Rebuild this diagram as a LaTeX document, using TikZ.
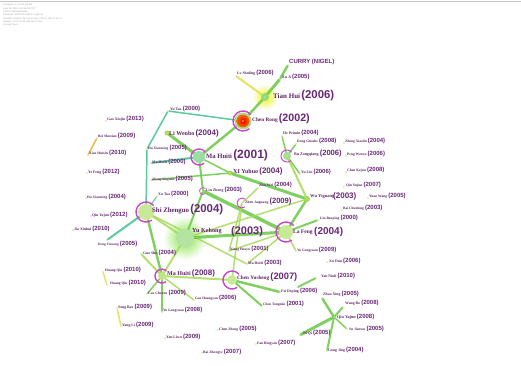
\documentclass[tikz,border=0pt]{standalone}
\usepackage{fontspec}
\setmainfont{Liberation Serif}
\newfontfamily\yrf{Liberation Sans}
\usetikzlibrary{calc}
\definecolor{txtp}{RGB}{95,35,100}
\definecolor{yrp}{RGB}{105,40,120}
\definecolor{ringp}{RGB}{205,70,200}
\definecolor{eteal}{RGB}{60,195,140}
\definecolor{egreen}{RGB}{105,200,70}
\definecolor{elime}{RGB}{165,218,85}
\definecolor{eyel}{RGB}{225,222,70}
\definecolor{eorange}{RGB}{232,172,50}
\pgfdeclarelayer{bg}
\pgfdeclarelayer{mid}
\pgfsetlayers{bg,mid,main}
\tikzset{
  dotnode/.style={circle,inner sep=0pt,minimum size=1.8pt,fill=elime!70!white},
  lbl/.style={anchor=west,inner sep=0pt,text=txtp},
  ed/.style={line cap=round,opacity=0.85},
  ring/.style={draw=ringp,line width=1.4pt},
  hdr/.style={anchor=north west,inner sep=0pt,align=left,text=gray!75,font=\fontsize{2.3pt}{3.3pt}\selectfont\yrf}
}
\newcommand\au[9]{%
  \node[dotnode] (#1) at (#2,#3) {};
  \node[lbl] (#1l) at (#4,#5) {\fontsize{#8pt}{#8pt}\selectfont\bfseries #6\hspace{1.2pt}{\yrf\color{yrp}\fontsize{#9pt}{#9pt}\selectfont(#7)}};}
\begin{document}
\begin{tikzpicture}[x=1pt,y=-1pt]
\useasboundingbox (0,0) rectangle (521,366);
\begin{pgfonlayer}{bg}
\fill[white] (0,0) rectangle (521,366);
\end{pgfonlayer}
\draw[gray!45,line width=0.6pt] (0,1.5) -- (521,1.5);
\node[hdr] (header) at (3,4) {CiteSpace, v. 5.3.R4 (64-bit)\\June 20, 2019 3:42:18 PM CST\\CNKI: E:\textbackslash citespace\textbackslash data\\Timespan: 2000-2013 (Slice Length=1)\\Selection Criteria: Top 50 per slice, LRF=2, LBY=8, e=2.0\\Network: N=72, E=64 (Density=0.025)\\Pruning: None};

% ---- nodes and labels ----
\node[dotnode] (curry) at (288,65) {};
\node[lbl] (curryl) at (289,62) {\yrf\bfseries\color{yrp}\fontsize{6pt}{6pt}\selectfont CURRY (NIGEL)};
\au{xuji}{280}{79}{282}{77}{Xu Ji}{2005}{3.8}{6}
\au{lvs}{236}{76}{237}{73}{Lv Shuling}{2006}{3.8}{6}
\au{tian}{265}{97}{273}{96}{Tian Hui}{2006}{7}{11.4}
\au{chen}{243}{121}{252}{119}{Chen Rong}{2002}{5.3}{10.7}
\au{mah01}{199}{157}{206}{155}{Ma Huiti}{2001}{6.6}{12}
\au{liw}{167}{133}{169}{133}{Li Wenbo}{2004}{6}{8}
\au{yutao}{168}{111}{170}{109}{Yu Tao}{2000}{3.8}{6}
\au{hux05}{147}{149}{148}{148}{Hu Xiaoming}{2005}{3.5}{6}
\au{mah00}{151}{163}{152}{162}{Ma Huiti}{2000}{3.8}{6}
\au{zhy}{151}{180}{152}{179}{Zhang Yingmin}{2005}{3.3}{6}
\au{gaox}{106}{121}{107}{119}{Gao Xiujin}{2013}{3.8}{6}
\au{bei}{97}{138}{98}{136}{Bei Shuxian}{2009}{3.6}{6}
\au{xiao}{88}{155}{89}{153}{Xiao Huixin}{2010}{3.6}{6}
\au{yef}{87}{173}{88}{172}{Ye Feng}{2012}{3.8}{6}
\au{hux04}{86}{198}{87}{197}{Hu Xiaoming}{2004}{3.5}{6}
\au{qiny}{91}{216}{92}{215}{Qin Yajun}{2012}{3.8}{6}
\au{jia}{73}{230}{74}{229}{Jia Xinhui}{2010}{3.8}{6}
\au{deng}{107}{240}{98}{244}{Deng Yuesong}{2005}{3.4}{6}
\au{shi}{146}{212}{152}{210}{Shi Zhenguo}{2004}{6.8}{11.4}
\au{xutao}{157}{196}{158}{194}{Xu Tao}{2000}{3.8}{6}
\au{lin}{203}{191}{206}{190}{Lin Zhong}{2003}{3.8}{6}
\au{xi}{230}{173}{233}{171}{XI Yuhuo}{2004}{6}{8}
\au{zhou}{242}{203}{245}{202}{Zhou Anguang}{2009}{3.6}{7.6}
\node[dotnode] (yuk) at (185,238) {};
\node[lbl] (yukl) at (192,231) {\fontsize{6.2pt}{6.2pt}\selectfont\bfseries Yu Kehong};
\node[lbl] (yuky) at (231,232) {\yrf\bfseries\color{yrp}\fontsize{11pt}{11pt}\selectfont(2003)};
\node[dotnode] (laf) at (286,232) {};
\node[lbl] (lafl) at (293,232) {\fontsize{5.5pt}{5.5pt}\selectfont\bfseries La Feng};
\node[lbl] (lafy) at (314,232) {\yrf\bfseries\color{yrp}\fontsize{10pt}{10pt}\selectfont(2004)};
\node[dotnode] (wu) at (307,199) {};
\node[lbl] (wul) at (310,196) {\fontsize{4.5pt}{4.5pt}\selectfont\bfseries Wu Yiguang};
\node[lbl] (wuy) at (333,196) {\yrf\bfseries\color{yrp}\fontsize{8pt}{8pt}\selectfont(2003)};
\au{zhuw}{258}{188}{259}{185}{Zhu Wei}{2004}{3.8}{6}
\au{bu}{287}{156}{294}{154}{Bu Zongqiang}{2006}{4}{7.6}
\au{hep}{282}{136}{283}{133}{He Peimin}{2004}{3.8}{6}
\au{dong}{296}{144}{297}{141}{Dong Guoshe}{2008}{3.6}{6}
\au{yul}{300}{174}{301}{172}{Yu Liu}{2006}{3.8}{6}
\au{zhx}{344}{143}{345}{141}{Zhang Xiaolin}{2004}{3.5}{6}
\au{peng}{346}{156}{347}{154}{Peng Wenyu}{2006}{3.6}{6}
\au{chk}{346}{172}{347}{170}{Chen Kejun}{2008}{3.6}{6}
\au{qiu}{344}{187}{346}{185}{Qiu Yujun}{2007}{3.6}{6}
\au{yuan}{368}{198}{369}{196}{Yuan Wang}{2005}{3.6}{6}
\au{bai}{342}{210}{343}{208}{Bai Chunlong}{2003}{3.5}{6}
\au{liub}{318}{220}{320}{218}{Liu Baoping}{2000}{3.6}{6}
\au{yug09}{296}{251}{297}{250}{Yu Gongyuan}{2009}{3.5}{6}
\au{xud}{327}{262}{329}{261}{Xu Dun}{2006}{3.8}{6}
\au{yan}{316}{278}{321}{276}{Yan Ninli}{2010}{3.8}{6}
\coordinate (yanend) at (298,287);
\au{mah03}{247}{264}{248}{263}{Ma Huiti}{2003}{3.8}{6}
\au{xiang}{229}{251}{230}{249}{Xiang Huayu}{2001}{3.5}{6}
\au{chy}{232}{280}{237}{277}{Chen Yusheng}{2007}{5.2}{9.3}
\au{fei}{280}{292}{281}{291}{Fei Deping}{2006}{3.8}{6}
\au{chtm}{262}{306}{263}{304}{Chen Tongmin}{2001}{3.5}{6}
\au{mah08}{162}{276}{167}{273}{Ma Huiti}{2008}{6}{8}
\au{guo}{141}{254}{143}{253}{Guo Shu}{2004}{3.8}{6}
\au{hqiu}{103}{272}{105}{270}{Huang Qiu}{2010}{3.6}{6}
\au{hqin}{107}{285}{110}{283}{Huang Qin}{2010}{3.6}{6}
\au{cao}{147}{294}{148}{293}{Cao Chenxu}{2009}{3.6}{6}
\au{gaoh}{194}{300}{195}{298}{Gao Huangyan}{2006}{3.5}{6}
\au{yug08}{162}{312}{163}{310}{Yu Gongyuan}{2008}{3.5}{6}
\au{song}{117}{308}{118}{307}{Song Bao}{2009}{3.8}{6}
\au{yangli}{121}{326}{122}{325}{Yang Li}{2009}{3.8}{6}
\au{yanl}{165}{338}{166}{337}{Yan Liwu}{2009}{3.8}{6}
\au{chz}{218}{330}{219}{329}{Chen Zheng}{2005}{3.6}{6}
\au{fanb}{256}{344}{257}{343}{Fan Bingyan}{2007}{3.6}{6}
\au{baiz}{202}{353}{203}{352}{Bai Zhongye}{2007}{3.6}{6}
\au{niqi}{300}{335}{303}{333}{Ni Qi}{2005}{3.8}{6}
\au{zhaox}{322}{298}{323}{294}{Zhao Xing}{2005}{3.8}{6}
\au{wangb}{343}{307}{345}{303}{Wang Bo}{2008}{3.8}{6}
\au{qy08}{334}{317}{337}{317}{Qiu Yajun}{2008}{4.2}{6}
\au{su}{347}{329}{349}{329}{Su Jianwu}{2005}{3.6}{6}
\au{gongj}{327}{351}{328}{350}{Gong Jing}{2004}{3.8}{6}

% ---- halos and edges ----
\begin{pgfonlayer}{bg}
\shade[inner color=elime!80!green,outer color=white] (yuk) circle (22);
\shade[inner color=yellow!75!elime,outer color=white] (tian) circle (13);
\draw[ed,egreen,line width=2.5pt] (curry) -- (xuji);
\draw[ed,egreen,line width=3pt] (xuji) -- (tian);
\draw[ed,eyel,line width=2pt] (lvs) -- (tian);
\draw[ed,egreen,line width=2.5pt] (tian) -- (chen);
\draw[ed,eteal,line width=1.5pt] (chen) -- (yutao);
\draw[ed,egreen,line width=2.5pt] (chen) -- (mah01);
\draw[ed,eteal,line width=1.5pt] (yutao) -- (hux05);
\draw[ed,eteal,line width=1.5pt] (hux05) -- (shi);
\draw[ed,egreen,line width=3pt] (liw) -- (mah01);
\draw[ed,eteal,line width=2pt] (mah00) -- (mah01);
\draw[ed,egreen,line width=1.5pt] (zhy) -- (xi);
\draw[ed,egreen,line width=1.5pt] (mah01) -- (xi);
\draw[ed,egreen,line width=2pt] (mah01) -- (lin);
\draw[ed,egreen,line width=2pt] (lin) -- (yuk);
\draw[ed,egreen,line width=3.5pt] (lin) -- (laf);
\draw[ed,egreen,line width=3pt] (xi) -- (wu);
\draw[ed,eteal,line width=1pt] (xutao) -- (shi);
\draw[ed,eteal,line width=2pt] (shi) -- (deng);
\draw[ed,elime,line width=2pt] (shi) -- (yuk);
\draw[ed,egreen,line width=2.5pt] (shi) -- (mah08);
\draw[ed,elime,line width=1.5pt] (shi) -- (mah03);
\draw[ed,egreen,line width=3pt] (yuk) -- (laf);
\draw[ed,elime,line width=2pt] (yuk) -- (mah08);
\draw[ed,elime,line width=1.5pt] (yuk) -- (wu);
\draw[ed,elime,line width=1.5pt] (zhou) -- (zhuw);
\draw[ed,elime,line width=1.5pt] (zhou) -- (xiang);
\draw[ed,elime,line width=1.5pt] (zhou) -- (chy);
\draw[ed,egreen,line width=1.5pt] (bu) -- (hep);
\draw[ed,egreen,line width=1.5pt] (bu) -- (dong);
\draw[ed,egreen,line width=1.5pt] (bu) -- (yul);
\draw[ed,elime,line width=2pt] (bu) -- (wu);
\draw[ed,egreen,line width=2.5pt] (wu) -- (laf);
\draw[ed,egreen,line width=2pt] (liub) -- (laf);
\draw[ed,elime,line width=1.5pt] (laf) -- (mah03);
\draw[ed,elime,line width=1.5pt] (laf) -- (xiang);
\draw[ed,elime,line width=1.5pt] (laf) -- (yug09);
\draw[ed,egreen,line width=2pt] (yan) -- (yanend);
\draw[ed,egreen,line width=2.5pt] (chy) -- (fei);
\draw[ed,egreen,line width=2pt] (chy) -- (chtm);
\draw[ed,elime,line width=2pt] (chy) -- (mah08);
\draw[ed,elime,line width=2pt] (mah08) -- (guo);
\draw[ed,egreen,line width=1.5pt] (mah08) -- (cao);
\draw[ed,elime,line width=1.5pt] (mah08) -- (gaoh);
\draw[ed,egreen,line width=2pt] (mah08) -- (yug08);
\draw[ed,eyel,line width=1.5pt] (hqiu) -- (hqin);
\draw[ed,eyel,line width=1.5pt] (song) -- (yangli);
\draw[ed,eorange,line width=1.5pt] (bei) -- (xiao);
\draw[ed,egreen,line width=2.5pt] (qy08) -- (zhaox);
\draw[ed,egreen,line width=2pt] (qy08) -- (wangb);
\draw[ed,egreen,line width=1.5pt] (qy08) -- (su);
\draw[ed,egreen,line width=3pt] (qy08) -- (niqi);
\draw[ed,egreen,line width=2pt] (qy08) -- (gongj);
\end{pgfonlayer}

% ---- node discs and rings ----
\begin{pgfonlayer}{mid}
\fill[egreen!70!white] (tian) circle (4);
\fill[egreen!50!white] (yuk) circle (9);
\fill[elime!60!white] (shi) circle (8);
\fill[elime!60!white] (laf) circle (7);
\fill[eteal!50!egreen!60!white] (mah01) circle (6);
\fill[elime!60!white] (chy) circle (5);
\fill[elime!70!white] (mah08) circle (4);
\fill[egreen!60!white] (bu) circle (4);
\fill[elime] (xi) circle (2.5);
\fill[elime] (liw) circle (2.5);
\fill[elime] (wu) circle (3);
\fill[egreen!60!white] (chen) circle (8.5);
\shade[inner color=red!90!black,outer color=orange!85!red] (chen) circle (6.5);
\draw[ring] ($(chen)+(50:10)$) arc[start angle=50,end angle=320,radius=10];
\draw[ring] ($(mah01)+(50:8)$) arc[start angle=50,end angle=320,radius=8];
\draw[ring] ($(shi)+(55:10)$) arc[start angle=55,end angle=320,radius=10];
\draw[ring] ($(laf)+(55:10)$) arc[start angle=55,end angle=320,radius=10];
\draw[ring] ($(chy)+(55:9)$) arc[start angle=55,end angle=320,radius=9];
\draw[ring] ($(mah08)+(55:7)$) arc[start angle=55,end angle=310,radius=7];
\draw[ring,line width=1pt] ($(bu)+(50:6)$) arc[start angle=50,end angle=320,radius=6];
\draw[ring,line width=0.9pt] ($(zhou)+(55:5)$) arc[start angle=55,end angle=310,radius=5];
\draw[ring,line width=0.7pt] ($(lin)+(50:3.5)$) arc[start angle=50,end angle=315,radius=3.5];
\end{pgfonlayer}
\end{tikzpicture}
\end{document}
